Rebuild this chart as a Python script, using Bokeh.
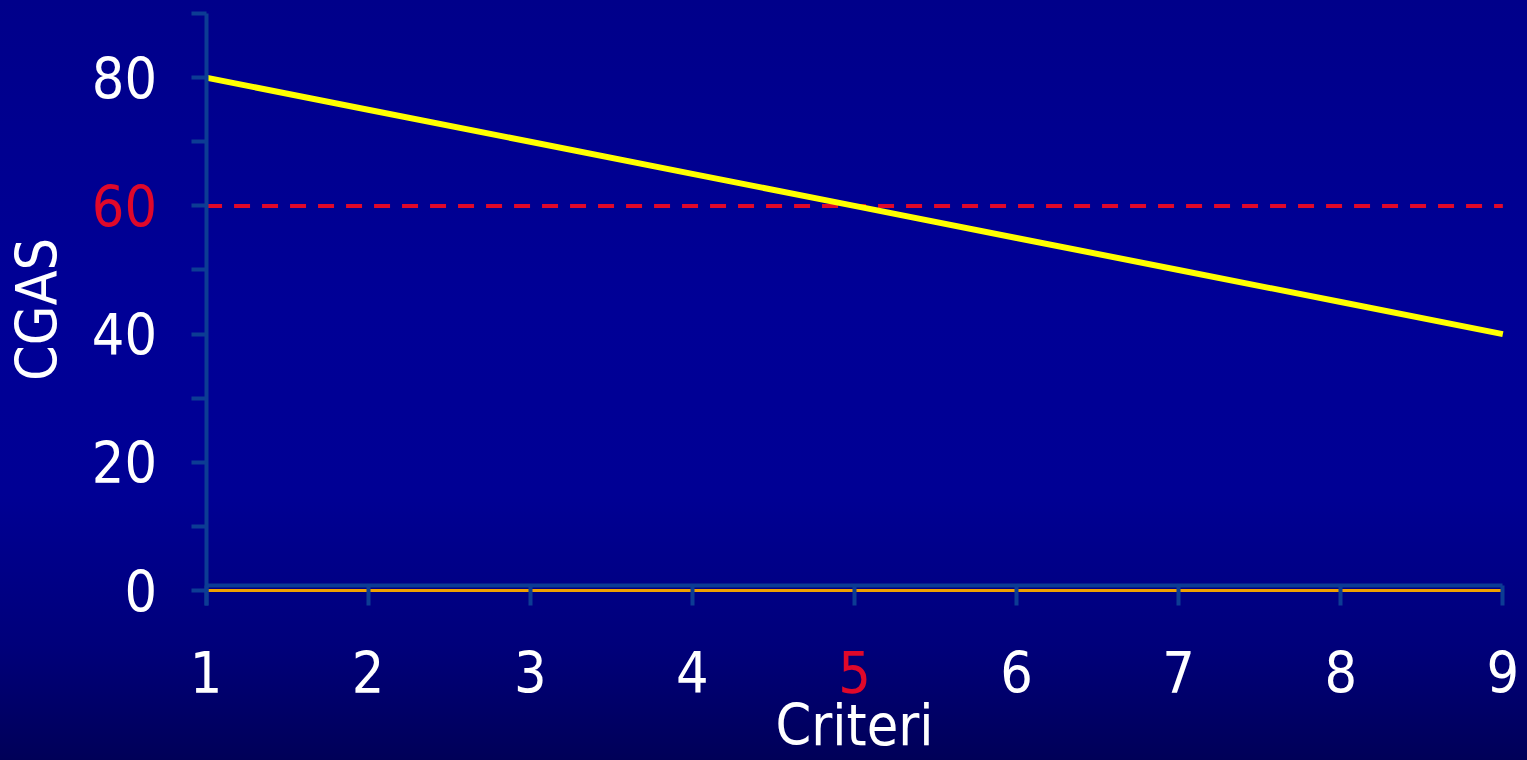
from bokeh.plotting import figure
from bokeh.models import Range1d, FixedTicker, LinearAxis, GlobalInlineStyleSheet
from bokeh.embed import file_html
from bokeh.resources import INLINE

# ---- data ----
criteri = [1, 2, 3, 4, 5, 6, 7, 8, 9]
cgas = [80, 75, 70, 65, 60, 55, 50, 45, 40]
linea_base = [0, 0, 0, 0, 0, 0, 0, 0, 0]
soglia_cgas = 60
soglia_serie = [60, 60, 60, 60, 60, 60, 60, 60, 60]
criterio_soglia = 5
y_ticks = [0, 10, 20, 30, 40, 50, 60, 70, 80, 90]
y_tick_labels = {0: "0", 10: "", 20: "20", 30: "", 40: "40", 50: "",
                 60: "", 70: "", 80: "80", 90: ""}
x_tick_labels = {1: "1", 2: "2", 3: "3", 4: "4", 5: "", 6: "6", 7: "7", 8: "8", 9: "9"}

# ---- style ----
FONT = "DejaVu Sans Condensed"
AXIS = "#0C3C94"
RED = "#E0082A"
WHITE = "#FFFFFF"
Y_AXIS_BOTTOM = -2.34
TICK_FS = "57px"
LABEL_FS = "57px"

# the frame covers the whole canvas; axes are drawn at fixed data locations
p = figure(width=1527, height=760, output_backend="svg", toolbar_location=None,
           x_range=Range1d(-0.268, 9.152), y_range=Range1d(-26.52, 92.04),
           x_axis_type=None, y_axis_type=None,
           min_border_left=0, min_border_right=0, min_border_top=0, min_border_bottom=0,
           background_fill_color=None, border_fill_color=None, outline_line_color=None)
p.styles = {"background": "linear-gradient(to bottom, #00008A 0%, #000096 40%, #000094 65%, #00007A 85%, #000058 100%)"}
p.stylesheets = [GlobalInlineStyleSheet(css="body { background-color: #00008A; }")]

y_common = dict(fixed_location=criteri[0], bounds=(Y_AXIS_BOTTOM, y_ticks[-1]),
                major_tick_out=15, major_tick_in=0, minor_tick_line_color=None,
                major_label_standoff=34, major_label_text_font=FONT,
                major_label_text_font_size=TICK_FS)

yaxis = LinearAxis(ticker=FixedTicker(ticks=y_ticks),
                   major_label_overrides=y_tick_labels,
                   axis_line_color=AXIS, axis_line_width=4,
                   major_tick_line_color=AXIS, major_tick_line_width=4,
                   major_label_text_color=WHITE,
                   axis_label="CGAS", axis_label_text_font=FONT,
                   axis_label_text_font_size=LABEL_FS, axis_label_text_color=WHITE,
                   axis_label_text_font_style="normal", axis_label_standoff=19,
                   **y_common)
p.add_layout(yaxis, "left")

yaxis_red = LinearAxis(ticker=FixedTicker(ticks=[soglia_cgas]),
                       axis_line_color=None, major_tick_line_color=None,
                       major_label_text_color=RED, **y_common)
p.add_layout(yaxis_red, "left")

x_common = dict(fixed_location=0.8, bounds=(criteri[0], criteri[-1]),
                major_tick_out=20, major_tick_in=0, minor_tick_line_color=None,
                major_label_standoff=46, major_label_text_font=FONT,
                major_label_text_font_size=TICK_FS)

xaxis = LinearAxis(ticker=FixedTicker(ticks=criteri),
                   major_label_overrides=x_tick_labels,
                   axis_line_color=AXIS, axis_line_width=4,
                   major_tick_line_color=AXIS, major_tick_line_width=4,
                   major_label_text_color=WHITE,
                   axis_label="Criteri", axis_label_text_font=FONT,
                   axis_label_text_font_size=LABEL_FS, axis_label_text_color=WHITE,
                   axis_label_text_font_style="normal", axis_label_standoff=-5,
                   **x_common)
p.add_layout(xaxis, "below")

xaxis_red = LinearAxis(ticker=FixedTicker(ticks=[criterio_soglia]),
                       axis_line_color=None, major_tick_line_color=None,
                       major_label_text_color=RED, **x_common)
p.add_layout(xaxis_red, "below")

p.line(criteri, linea_base, line_color="#F0A000", line_width=3)
p.line(criteri, soglia_serie, line_color=RED, line_width=4, line_dash="16 12")
p.line(criteri, cgas, line_color="#FFFF00", line_width=6)

open("out.html", "w").write(file_html(p, INLINE))
